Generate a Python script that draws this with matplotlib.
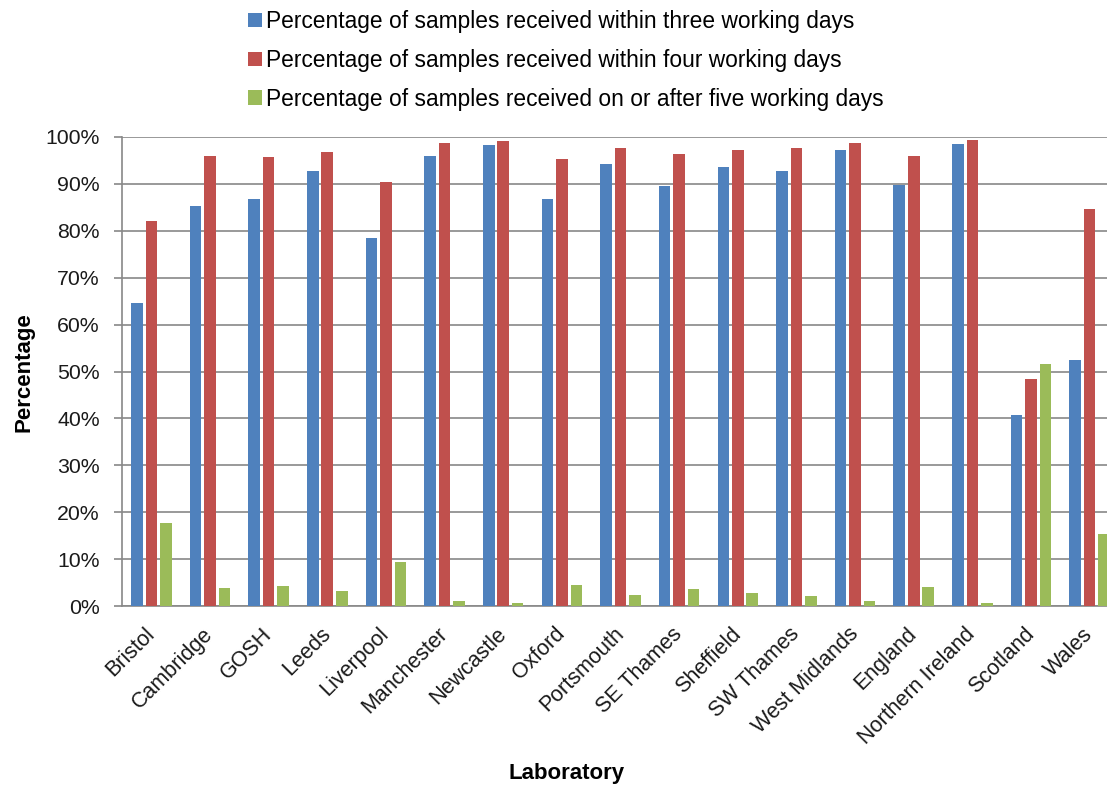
import matplotlib
matplotlib.use("Agg")
import matplotlib.pyplot as plt
from matplotlib.patches import Patch
from matplotlib.ticker import PercentFormatter
import numpy as np

plt.rcParams["font.family"] = ["Liberation Sans", "DejaVu Sans"]

labs = ["Bristol", "Cambridge", "GOSH", "Leeds", "Liverpool", "Manchester",
        "Newcastle", "Oxford", "Portsmouth", "SE Thames", "Sheffield",
        "SW Thames", "West Midlands", "England", "Northern Ireland",
        "Scotland", "Wales"]

within3 = [64.7, 85.2, 86.8, 92.7, 78.4, 96.0, 98.4, 86.8, 94.3, 89.5,
           93.5, 92.8, 97.3, 89.7, 98.6, 40.7, 52.5]
within4 = [82.1, 96.0, 95.7, 96.8, 90.4, 98.8, 99.2, 95.4, 97.6, 96.4,
           97.2, 97.6, 98.8, 95.9, 99.3, 48.4, 84.7]
after5 = [17.8, 3.9, 4.2, 3.1, 9.4, 1.1, 0.7, 4.5, 2.3, 3.6,
          2.7, 2.2, 1.1, 4.0, 0.6, 51.6, 15.3]

series_names = [
    "Percentage of samples received within three working days",
    "Percentage of samples received within four working days",
    "Percentage of samples received on or after five working days",
]
colors = ["#4F81BD", "#C0504D", "#9BBB59"]

W, H = 1107, 789
fig = plt.figure(figsize=(W / 100, H / 100), dpi=100)
# axes runs past the right edge, like the cropped original
ax = fig.add_axes([122 / W, 183 / H, 997 / W, 469 / H])

x = np.arange(len(labs))
bw = 0.198
off = 0.247
for k, vals in enumerate([within3, within4, after5]):
    ax.bar(x + (k - 1) * off, np.array(vals) / 100.0, width=bw,
           color=colors[k], edgecolor="none", zorder=3)

ax.set_xlim(-0.5, len(labs) - 0.5)
ax.set_ylim(0, 1.0)
ax.set_yticks(np.arange(0, 1.01, 0.1))
ax.yaxis.set_major_formatter(PercentFormatter(1.0, decimals=0))
ax.grid(axis="y", color="#888888", linewidth=1.2, zorder=0)
ax.set_axisbelow(True)

for s in ["top", "right"]:
    ax.spines[s].set_visible(False)
for s in ["left", "bottom"]:
    ax.spines[s].set_color("#888888")
    ax.spines[s].set_linewidth(1.2)

ax.tick_params(axis="y", length=6, width=1.2, color="#888888", pad=10,
               labelsize=15.3, labelcolor="#1a1a1a")
ax.tick_params(axis="x", length=0, pad=18, labelsize=15.5, labelcolor="#1a1a1a")
ax.set_xticks(x)
ax.set_xticklabels(labs, rotation=45, ha="right", va="center",
                   rotation_mode="anchor")

fig.text(567 / W, 1 - 773 / H, "Laboratory", ha="center", va="center",
         fontsize=16, fontweight="bold")
fig.text(24 / W, 1 - 372 / H, "Percentage", ha="center", va="center",
         rotation=90, fontsize=16, fontweight="bold")

handles = [Patch(facecolor=c, edgecolor="none") for c in colors]
fig.legend(handles, series_names, loc="upper left",
           bbox_to_anchor=(239 / W, 1 - 1 / H), frameon=False,
           fontsize=16.4, handlelength=0.6, handleheight=0.6,
           handletextpad=0.18, labelspacing=0.69, borderaxespad=0)

fig.savefig("out.png", dpi=100)
